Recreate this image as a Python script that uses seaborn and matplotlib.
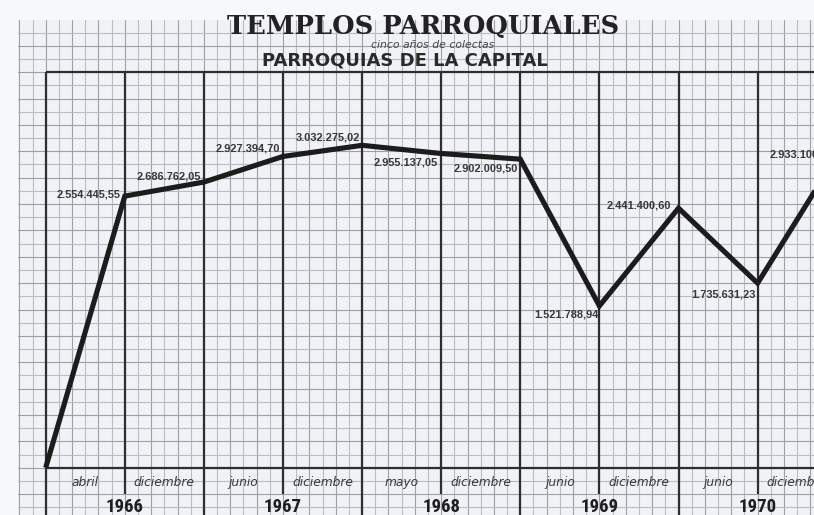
import matplotlib
matplotlib.use("Agg")
import matplotlib.pyplot as plt
from matplotlib import font_manager
import numpy as np
import pandas as pd
import seaborn as sns

# --- data -------------------------------------------------------------
months = ["abril", "diciembre", "junio", "diciembre", "mayo",
          "diciembre", "junio", "diciembre", "junio", "diciembre"]
years = ["1966", "1967", "1968", "1969", "1970"]
# cumulative collections at the close of each period (pesos)
collected = [0.0, 2554445.55, 2686762.05, 2927394.70, 3032275.02,
             2955137.05, 2902009.50, 1521788.94, 2441400.60,
             1735631.23, 2933100.00]

title = "TEMPLOS PARROQUIALES"
subtitle = "cinco años de colectas"
heading = "PARROQUIAS DE LA CAPITAL"

# --- layout of the graph paper (pixels) -------------------------------
FIG_W, FIG_H, DPI = 814, 515, 100
PAPER_LEFT, PAPER_TOP = 18, 20
X0_PX, COL_PX = 45.7, 79.1
CELL_PX = COL_PX / 6
BASE_PX = 467.7
CELL_VALUE = 124_000
TOP_CELLS = 30

sns.set_theme(style="white")
plt.rcParams["font.family"] = ["DejaVu Sans"]

installed = {f.name for f in font_manager.fontManager.ttflist}
narrow = next((n for n in ["Liberation Sans Narrow", "Roboto Condensed",
                           "Liberation Sans"] if n in installed),
              "DejaVu Sans")

fig = plt.figure(figsize=(FIG_W / DPI, FIG_H / DPI), dpi=DPI,
                 facecolor="#f7f8fa")
ax = fig.add_axes([PAPER_LEFT / FIG_W, 0, 1 - PAPER_LEFT / FIG_W,
                   1 - PAPER_TOP / FIG_H])
ax.set_facecolor("#f0f2f6")

xmin = (PAPER_LEFT - X0_PX) / COL_PX
xmax = (FIG_W - X0_PX) / COL_PX
ymin = -(FIG_H - BASE_PX) / CELL_PX * CELL_VALUE
ymax = (BASE_PX - PAPER_TOP) / CELL_PX * CELL_VALUE
ax.set_xlim(xmin, xmax)
ax.set_ylim(ymin, ymax)
for s in ax.spines.values():
    s.set_visible(False)
ax.set_xticks([])
ax.set_yticks([])

# fine millimetre-style grid
dark, light = "#9ca1a8", "#b9bdc3"
for k in range(int(np.ceil(xmin * 6)), int(np.floor(xmax * 6)) + 1):
    ax.axvline(k / 6, color=dark if k % 2 == 0 else light, lw=0.8, zorder=1)
for k in range(int(np.ceil(ymin / CELL_VALUE)),
               int(np.floor(ymax / CELL_VALUE)) + 1):
    ax.axhline(k * CELL_VALUE, color=dark if k % 2 == 0 else light,
               lw=0.8, zorder=1)

# heavy frame: top rule, base line and period dividers
top = TOP_CELLS * CELL_VALUE
frame_kw = dict(color="#2e2e2e", lw=1.6, zorder=3, solid_capstyle="butt")
ax.plot([0, xmax], [top, top], **frame_kw)
ax.plot([0, xmax], [0, 0], **frame_kw)
for i in range(0, 11):
    low = ymin if i % 2 == 0 else -2 * CELL_VALUE
    ax.plot([i, i], [low, top], **frame_kw)

# the collections line
df = pd.DataFrame({"pos": np.arange(len(collected)), "importe": collected})
sns.lineplot(data=df, x="pos", y="importe", ax=ax, color="#1c1c1c",
             linewidth=3.7, sort=False, estimator=None, zorder=5)
ln = ax.lines[-1]
ln.set_solid_joinstyle("miter")
ln.set_solid_capstyle("butt")
ax.set_xlabel("")
ax.set_ylabel("")


def pesos(v):
    ent, dec = f"{v:,.2f}".split(".")
    return ent.replace(",", ".") + "," + dec


label_offsets = [None, (-4, 2), (-3, 6), (-3, 8), (-2, 8), (-3, -9),
                 (-2, -9), (-1, -9), (-7, 3), (-2, -11), (-3, 1)]
for i, v in enumerate(collected):
    if label_offsets[i] is None:
        continue
    ax.annotate(pesos(v), (i, v), xytext=label_offsets[i],
                textcoords="offset pixels", ha="right", va="center",
                fontsize=7.9, fontweight="bold", family="Liberation Sans",
                color="#383838", zorder=6, annotation_clip=False)

# period and year captions
month_y = -1.16 * CELL_VALUE
for i, m in enumerate(months):
    ax.text(i + 0.5, month_y, m, ha="center", va="center", fontsize=8.8,
            style="italic", color="#3a3a3a", zorder=6)
year_y = -2.98 * CELL_VALUE
for j, y in enumerate(years):
    ax.text(2 * j + 1, year_y, y, ha="center", va="center", fontsize=13.5,
            fontweight="bold", family=narrow, color="#1e1e1e", zorder=6)

# headings
fig.text(423 / FIG_W, 1 - 26 / FIG_H, title, ha="center", va="center",
         fontsize=18.5, fontweight="bold", family="DejaVu Serif",
         color="#222222")
fig.text(433 / FIG_W, 1 - 44.5 / FIG_H, subtitle, ha="center", va="center",
         fontsize=7.8, style="italic", color="#444444")
fig.text(405 / FIG_W, 1 - 60.5 / FIG_H, heading, ha="center", va="center",
         fontsize=13, fontweight="bold", color="#2a2a2a")

fig.savefig("out.png", dpi=DPI, facecolor=fig.get_facecolor())
